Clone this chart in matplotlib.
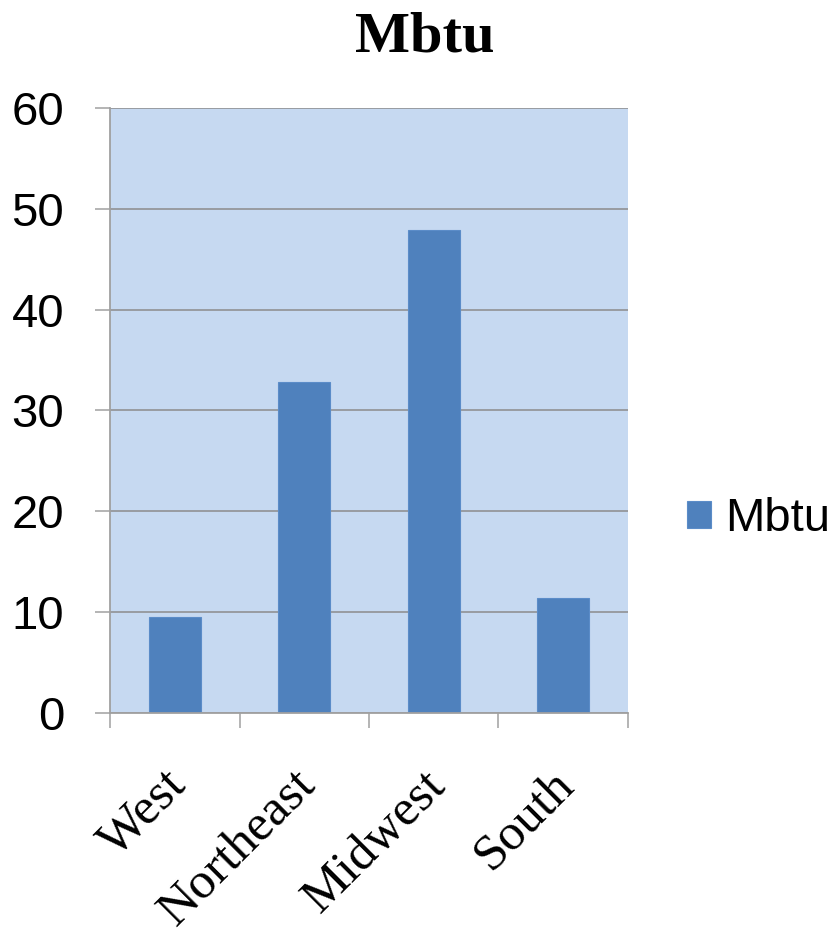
import matplotlib
matplotlib.use("Agg")
import matplotlib.pyplot as plt
from matplotlib.ticker import FixedLocator, NullFormatter
from matplotlib.transforms import ScaledTranslation

categories = ["West", "Northeast", "Midwest", "South"]
values = [9.5, 32.8, 47.9, 11.4]
series_name = "Mbtu"
yticks = [0, 10, 20, 30, 40, 50, 60]

fig = plt.figure(figsize=(8.37, 9.36), dpi=100)
ax = fig.add_axes([110/837, 1-713/936, 518/837, 605/936])
ax.set_facecolor("#C6D9F1")

x = list(range(len(categories)))
ax.bar(x, values, width=0.4, color="#4F81BD", edgecolor="#5B8CC8", linewidth=0.8,
       label=series_name, zorder=3)

ax.set_xlim(-0.5, len(categories) - 0.5)
ax.set_ylim(0, 60)
ax.set_yticks(yticks)
ax.yaxis.grid(True, color="#8C8C8C", linewidth=1.1, zorder=1)
ax.set_axisbelow(True)

for s in ["top", "right"]:
    ax.spines[s].set_visible(False)
for s in ["left", "bottom"]:
    ax.spines[s].set_color("#A0A0A0")
    ax.spines[s].set_linewidth(1.3)
    ax.spines[s].set_zorder(4)

ax.tick_params(axis="y", length=11, width=1.1, color="#A0A0A0", direction="out",
               labelsize=34, pad=22)
for lab in ax.get_yticklabels():
    lab.set_fontfamily("Liberation Sans")

# category boundary ticks
ax.xaxis.set_major_locator(FixedLocator([i - 0.5 for i in range(len(categories) + 1)]))
ax.xaxis.set_major_formatter(NullFormatter())
ax.tick_params(axis="x", which="major", length=11, width=1.1, color="#A0A0A0")
ax.xaxis.set_minor_locator(FixedLocator(x))
ax.set_xticklabels(categories, minor=True)
ax.tick_params(axis="x", which="minor", length=0, pad=35)
shift = ScaledTranslation(-12/100, 0, fig.dpi_scale_trans)
for lab in ax.get_xticklabels(minor=True):
    lab.set_fontfamily("Liberation Serif")
    lab.set_fontsize(37)
    lab.set_rotation(45)
    lab.set_ha("right")
    lab.set_va("top")
    lab.set_rotation_mode("anchor")
    lab.set_transform(lab.get_transform() + shift)

fig.text(425/837, 1-52/936, series_name, ha="center", va="baseline",
         fontsize=42, fontweight="bold", family="Liberation Serif")

leg = fig.legend(loc="center left", bbox_to_anchor=(687/837, 1-519/936),
                 frameon=False, prop={"family": "Liberation Sans", "size": 34},
                 handlelength=0.5, handleheight=0.5, handletextpad=0.3,
                 borderpad=0, borderaxespad=0)

fig.savefig("out.png", dpi=100)
